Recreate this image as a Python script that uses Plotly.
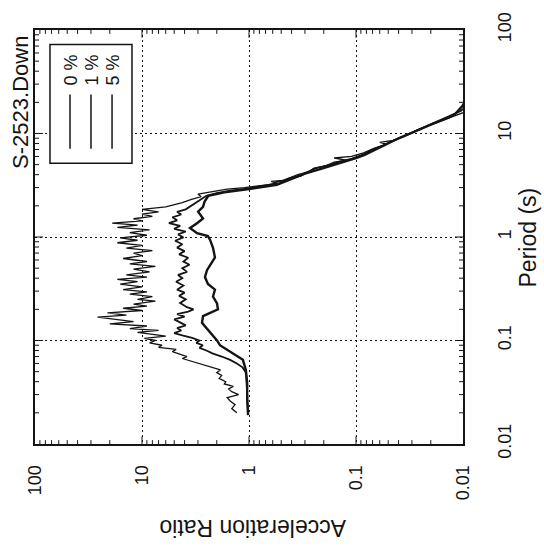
import math
import plotly.graph_objects as go

# ---------------- data (period in s, acceleration ratio) ----------------
period_0 = [0.020, 0.022, 0.024, 0.026, 0.028, 0.030, 0.032, 0.034, 0.036, 0.038,
            0.040, 0.043, 0.046, 0.049, 0.052, 0.055, 0.058, 0.061, 0.064, 0.067,
            0.070, 0.074, 0.078, 0.082, 0.086, 0.090, 0.095, 0.100, 0.105, 0.110,
            0.115, 0.120, 0.125, 0.130, 0.138, 0.145, 0.152, 0.160, 0.168, 0.176,
            0.185, 0.195, 0.205, 0.215, 0.225, 0.240, 0.250, 0.265, 0.280, 0.295,
            0.310, 0.330, 0.350, 0.370, 0.390, 0.410, 0.430, 0.460, 0.490, 0.520,
            0.550, 0.580, 0.620, 0.660, 0.700, 0.740, 0.780, 0.830, 0.880, 0.930,
            0.980, 1.040, 1.100, 1.170, 1.240, 1.300, 1.360, 1.430, 1.500, 1.580,
            1.660, 1.750, 1.850, 1.950, 2.050, 2.150, 2.300, 2.450, 2.600, 2.750,
            2.900, 3.000, 3.100, 3.200, 3.300, 3.450, 3.550, 3.800, 4.000, 4.300,
            4.600, 4.900, 5.300, 5.500, 5.800, 6.000, 6.500, 7.200, 7.900, 8.200,
            8.600, 9.500, 10.50, 11.50, 12.80, 14.00, 15.00, 16.00]
ratio_0 = [1.30, 1.45, 1.35, 1.50, 1.60, 1.25, 1.45, 1.55, 1.40, 1.70,
           1.65, 1.90, 1.80, 2.00, 1.85, 2.20, 2.60, 3.00, 3.60, 4.20,
           3.80, 4.50, 5.20, 4.80, 7.00, 6.50, 8.50, 7.50, 9.50, 6.00,
           8.50, 11.0, 7.00, 13.0, 9.00, 20.0, 12.0, 18.0, 26.0, 14.0,
           21.0, 10.0, 15.0, 9.00, 12.0, 7.50, 11.0, 8.00, 13.0, 9.00,
           15.0, 10.0, 16.0, 11.0, 17.0, 9.00, 14.0, 8.50, 12.0, 7.50,
           13.0, 9.00, 15.0, 10.0, 12.0, 8.00, 14.0, 10.0, 17.0, 11.0,
           16.0, 9.00, 13.0, 8.50, 17.0, 11.0, 19.0, 10.0, 12.0, 8.00,
           10.0, 7.00, 10.0, 6.00, 5.00, 4.20, 3.50, 2.80, 3.00, 2.20,
           1.60, 1.10, 0.80, 0.65, 0.55, 0.62, 0.45, 0.40, 0.35, 0.27,
           0.25, 0.19, 0.16, 0.12, 0.16, 0.11, 0.085, 0.068, 0.052, 0.060,
           0.045, 0.036, 0.029, 0.023, 0.0175, 0.014, 0.012, 0.0098]

period_1 = [0.020, 0.025, 0.030, 0.035, 0.040, 0.045, 0.050, 0.055, 0.060, 0.065,
            0.070, 0.075, 0.080, 0.085, 0.090, 0.095, 0.100, 0.106, 0.112, 0.118,
            0.125, 0.132, 0.140, 0.150, 0.160, 0.170, 0.180, 0.190, 0.200, 0.210,
            0.230, 0.250, 0.270, 0.290, 0.310, 0.340, 0.370, 0.400, 0.430, 0.460,
            0.500, 0.540, 0.580, 0.630, 0.680, 0.730, 0.790, 0.850, 0.920, 0.990,
            1.060, 1.130, 1.200, 1.280, 1.360, 1.450, 1.550, 1.650, 1.750, 1.850,
            1.950, 2.050, 2.200, 2.350, 2.500, 2.650, 2.800, 2.950, 3.100, 3.250,
            3.400, 3.500, 3.700, 3.900, 4.200, 4.600, 5.000, 5.300, 5.700, 6.300,
            7.000, 7.500, 8.300, 9.200, 10.20, 11.30, 12.50, 14.00, 15.50, 16.50,
            17.50]
ratio_1 = [1.02, 1.03, 1.03, 1.04, 1.05, 1.06, 1.08, 1.15, 1.30, 1.50,
           1.80, 2.20, 2.50, 2.90, 2.70, 3.10, 2.90, 3.40, 4.20, 5.00,
           4.30, 4.70, 3.90, 4.40, 5.00, 4.00, 4.70, 3.70, 3.30, 3.80,
           4.40, 3.90, 4.50, 4.00, 4.70, 4.10, 4.80, 4.20, 4.60, 3.80,
           4.20, 3.60, 4.10, 3.70, 4.50, 4.00, 4.70, 4.20, 4.90, 4.10,
           4.60, 3.90, 5.00, 4.40, 5.60, 4.70, 5.20, 4.30, 4.70, 3.90,
           3.60, 3.30, 3.00, 2.70, 2.50, 2.00, 1.50, 1.00, 0.75, 0.60,
           0.56, 0.48, 0.42, 0.33, 0.29, 0.24, 0.17, 0.15, 0.11, 0.085,
           0.070, 0.058, 0.048, 0.037, 0.030, 0.024, 0.019, 0.0145, 0.012, 0.0105,
           0.0098]

period_5 = [0.019, 0.027, 0.039, 0.052, 0.065, 0.072, 0.080, 0.090, 0.100, 0.111,
            0.130, 0.148, 0.172, 0.200, 0.228, 0.266, 0.310, 0.352, 0.410, 0.478,
            0.634, 0.788, 0.937, 1.020, 1.090, 1.220, 1.360, 1.510, 1.760, 1.960,
            2.200, 2.500, 2.700, 2.900, 3.200, 3.600, 4.100, 4.500, 5.100, 5.800,
            6.200, 7.000, 7.700, 8.400, 9.100, 10.00, 11.10, 12.20, 13.20, 14.30,
            15.50, 17.00, 18.50, 20.00]
ratio_5 = [1.02, 1.04, 1.04, 1.07, 1.14, 1.32, 1.57, 1.87, 1.99, 2.17,
           2.47, 2.75, 2.69, 1.95, 1.99, 2.17, 2.08, 2.42, 2.58, 2.47,
           2.08, 2.17, 2.31, 2.42, 3.06, 3.56, 3.06, 2.69, 2.99, 2.69,
           2.60, 2.40, 1.70, 1.00, 0.55, 0.41, 0.30, 0.22, 0.145, 0.100,
           0.083, 0.066, 0.054, 0.046, 0.039, 0.031, 0.025, 0.020, 0.0165, 0.0135,
           0.0118, 0.0108, 0.0101, 0.0097]

legend_labels = ["0 %", "1 %", "5 %"]
tick_vals = [0.01, 0.1, 1, 10, 100]
tick_text = ["0.01", "0.1", "1", "10", "100"]
title_text = "S-2523.Down"
xlabel_text = "Period (s)"
ylabel_text = "Acceleration Ratio"

# ---------------- figure (page shown rotated 90 deg CCW) ----------------
ink = "#141414"
FONT = "Liberation Sans, Arial, sans-serif"
PLOT_W, PLOT_H = 428, 429
LOG_MIN, LOG_MAX = -2, 2

fig = go.Figure()
series = [(period_0, ratio_0, 1.3), (period_1, ratio_1, 1.8), (period_5, ratio_5, 2.4)]
for (p, r, w), name in zip(series, legend_labels):
    # rotated: ratio on horizontal axis, period on vertical axis
    fig.add_trace(go.Scatter(x=r, y=p, mode="lines", name=name,
                             line=dict(color=ink, width=w), showlegend=False))

axis_common = dict(
    type="log", showline=True, linecolor=ink, linewidth=2, mirror=True,
    ticks="", showgrid=True, gridcolor=ink, gridwidth=1, griddash="2px,3px",
    zeroline=False, tickmode="array", tickvals=tick_vals, ticktext=tick_text,
    tickfont=dict(family=FONT, size=18, color=ink),
    ticklabeloverflow="allow",
)

fig.update_layout(
    width=544, height=555,
    margin=dict(l=35, r=81, t=15, b=111),
    paper_bgcolor="white", plot_bgcolor="white",
    showlegend=False,
    xaxis=dict(axis_common, range=[LOG_MAX, LOG_MIN], tickangle=-90, side="bottom",
               ticklabelstandoff=12),
    yaxis=dict(axis_common, range=[LOG_MIN, LOG_MAX], tickangle=-90, side="right",
               ticklabelstandoff=24),
)

# inside tick marks on all four sides (major 8 px, minor 4 px)
def frac_ratio(v):   # horizontal axis is reversed (100 at left)
    return (LOG_MAX - math.log10(v)) / (LOG_MAX - LOG_MIN)

def frac_period(v):
    return (math.log10(v) - LOG_MIN) / (LOG_MAX - LOG_MIN)

tick_marks = [(v, 8) for v in tick_vals[1:-1]] + \
             [(k * 10.0 ** e, 4) for e in range(LOG_MIN, LOG_MAX) for k in range(2, 10)]
for v, ln in tick_marks:
    fx = frac_ratio(v)
    dy = ln / PLOT_H
    for y0, y1 in ((0, dy), (1 - dy, 1)):
        fig.add_shape(type="line", xref="paper", yref="paper", x0=fx, x1=fx, y0=y0, y1=y1,
                      line=dict(color=ink, width=1))
    fy = frac_period(v)
    dx = ln / PLOT_W
    for x0, x1 in ((0, dx), (1 - dx, 1)):
        fig.add_shape(type="line", xref="paper", yref="paper", x0=x0, x1=x1, y0=fy, y1=fy,
                      line=dict(color=ink, width=1))

# legend drawn by hand (rotated)
fig.add_shape(type="rect", xref="paper", yref="paper",
              x0=0.035, x1=0.2266, y0=0.678, y1=0.965,
              line=dict(color=ink, width=1.5), fillcolor="white", layer="above")
for xp, lab in zip([0.0818, 0.1308, 0.180], legend_labels):
    fig.add_shape(type="line", xref="paper", yref="paper",
                  x0=xp, x1=xp, y0=0.713, y1=0.844,
                  line=dict(color=ink, width=1.5), layer="above")
    fig.add_annotation(text=lab, xref="paper", yref="paper", x=xp + 0.003, y=0.903,
                       textangle=-90, showarrow=False, xanchor="center", yanchor="middle",
                       font=dict(family=FONT, size=18, color=ink))

fig.add_annotation(text=title_text, xref="paper", yref="paper", x=-0.034, y=0.825,
                   textangle=-90, showarrow=False, xanchor="center", yanchor="middle",
                   font=dict(family=FONT, size=22, color=ink))
fig.add_annotation(text=xlabel_text, xref="paper", yref="paper", x=1.152, y=0.499,
                   textangle=-90, showarrow=False, xanchor="center", yanchor="middle",
                   font=dict(family=FONT, size=23, color=ink))
fig.add_annotation(text=ylabel_text, xref="paper", yref="paper", x=0.507, y=-0.203,
                   textangle=180, showarrow=False, xanchor="center", yanchor="middle",
                   font=dict(family=FONT, size=23, color=ink))

fig.write_html("out.html")
